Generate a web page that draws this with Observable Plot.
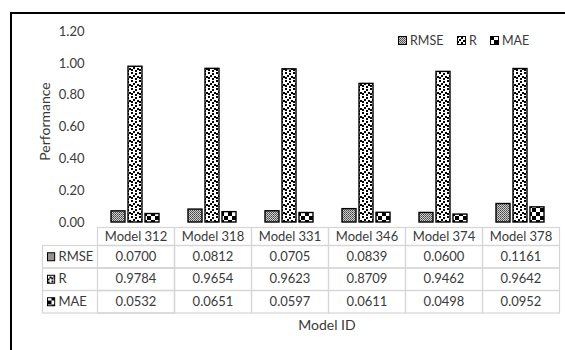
<!DOCTYPE html>
<html><head><meta charset="utf-8">
<script src="https://cdn.jsdelivr.net/npm/d3@7"></script>
<script src="https://cdn.jsdelivr.net/npm/@observablehq/plot@0.6"></script>
<style>
html,body{margin:0;padding:0;background:#fff;overflow:hidden;width:565px;height:350px;}
#wrap{position:relative;width:565px;height:350px;font-family:Lato,sans-serif;color:#3a3a3a;}
#border{position:absolute;left:10px;top:12px;width:700px;height:500px;border-left:2.5px solid #000;border-top:2.5px solid #000;box-sizing:border-box;}
#chart{position:absolute;left:0;top:0;}
#legend{position:absolute;top:33px;left:0;width:565px;height:14px;font-size:12.5px;white-space:nowrap;}
#legend .item{position:absolute;top:0;display:flex;align-items:center;height:14px;}
#legend svg{margin-right:3px;}
#xlabel{position:absolute;left:227px;width:200px;top:316px;text-align:center;font-size:14px;}
#defs{position:absolute;width:0;height:0;}
</style></head><body>
<svg id="defs" width="0" height="0">
 <defs>
  <pattern id="pat-rmse" patternUnits="userSpaceOnUse" width="2" height="2">
   <rect width="2" height="2" fill="#d0d0d0"/>
   <rect x="0" y="0" width="1" height="1" fill="#444"/>
   <rect x="1" y="1" width="1" height="1" fill="#666"/>
  </pattern>
  <pattern id="pat-r" patternUnits="userSpaceOnUse" width="8" height="8">
   <rect width="8" height="8" fill="#fff"/>
   <rect x="0" y="0" width="2" height="2" fill="#000"/>
   <rect x="4" y="1" width="2" height="2" fill="#000"/>
   <rect x="2" y="3" width="2" height="2" fill="#000"/>
   <rect x="6" y="4" width="2" height="2" fill="#000"/>
   <rect x="0" y="5" width="2" height="2" fill="#000"/>
   <rect x="4" y="6" width="2" height="2" fill="#000"/>
  </pattern>
  <pattern id="pat-mae" patternUnits="userSpaceOnUse" width="8" height="8">
   <rect width="8" height="8" fill="#fff"/>
   <rect x="0" y="0" width="4" height="4" fill="#000"/>
   <rect x="4" y="4" width="4" height="4" fill="#000"/>
  </pattern>
 </defs>
</svg>
<div id="wrap">
 <div id="border"></div>
 <div id="chart"></div>
 <div id="legend"></div>
 <div id="xlabel"></div>
</div>
<script>
// ---- data ----
const models = ["Model 312", "Model 318", "Model 331", "Model 346", "Model 374", "Model 378"];
const series = ["RMSE", "R", "MAE"];
const rmse = [0.0700, 0.0812, 0.0705, 0.0839, 0.0600, 0.1161];
const rValues = [0.9784, 0.9654, 0.9623, 0.8709, 0.9462, 0.9642];
const mae = [0.0532, 0.0651, 0.0597, 0.0611, 0.0498, 0.0952];
const yTicks = [0, 0.2, 0.4, 0.6, 0.8, 1.0, 1.2];
const yLabel = "Performance";
const xLabel = "Model ID";

const valuesBySeries = {RMSE: rmse, R: rValues, MAE: mae};
const patternIds = {RMSE: "pat-rmse", R: "pat-r", MAE: "pat-mae"};
const rows = series.flatMap(s => models.map((m, i) => ({model: m, series: s, value: valuesBySeries[s][i]})));

// ---- layout ----
const W = 565, H = 350, mTop = 31, mBottom = 128, mLeft = 94, mRight = 4;
const FB = H - mBottom;                         // frame bottom (y = 0)
const facetW = (W - mLeft - mRight) / models.length;
const lines = [227, 245, 267.5, 290, 312.5];    // table row boundaries
const centers = lines.slice(0, 4).map((v, k) => (v + lines[k + 1]) / 2);
const gridColor = "#d6d6d6";
const legendX = [398, 457, 490];

const marks = [];
for (const s of series) {
  marks.push(Plot.barY(rows.filter(d => d.series === s), {
    fx: "model", x: "series", y: "value",
    fill: `url(#${patternIds[s]})`, stroke: "#000", strokeWidth: 1.4
  }));
}
// table grid (model columns)
for (let k = 0; k < 4; k++) {
  marks.push(Plot.frame({stroke: gridColor, strokeWidth: 1.2,
    insetTop: lines[k] - mTop, insetBottom: FB - lines[k + 1]}));
}
// header row
marks.push(Plot.text(models, {fx: d => d, text: d => d, frameAnchor: "bottom", lineAnchor: "middle",
  dy: centers[0] - FB, fontSize: 13}));
// value rows + left label column
series.forEach((s, k) => {
  const cy = centers[k + 1];
  marks.push(Plot.text(models, {fx: d => d, text: (d, i) => valuesBySeries[s][i].toFixed(4),
    frameAnchor: "bottom", lineAnchor: "middle", dy: cy - FB, fontSize: 13}));
  marks.push(Plot.frame({fx: models[0], stroke: gridColor, strokeWidth: 1.2, insetLeft: 39 - mLeft,
    insetTop: lines[k + 1] - mTop, insetBottom: FB - lines[k + 2]}));
  // swatch
  marks.push(Plot.frame({fx: models[0], fill: `url(#${patternIds[s]})`, stroke: "#000", strokeWidth: 1,
    insetLeft: 44 - mLeft, insetRight: facetW - (52 - mLeft),
    insetTop: cy - 4 - mTop, insetBottom: FB - (cy + 4)}));
  marks.push(Plot.text([s], {fx: () => models[0], text: d => d, frameAnchor: "bottom-left",
    textAnchor: "start", lineAnchor: "middle", dx: 55 - mLeft, dy: cy - FB, fontSize: 13}));
});
// y label
marks.push(Plot.text([yLabel], {fx: () => models[0], text: d => d, frameAnchor: "left", rotate: -90,
  textAnchor: "middle", lineAnchor: "middle", dx: 42 - mLeft, dy: 121 - (mTop + FB) / 2, fontSize: 14}));

const chart = Plot.plot({
  width: W, height: H,
  marginTop: mTop, marginBottom: mBottom, marginLeft: mLeft, marginRight: mRight,
  style: {fontFamily: "Lato, sans-serif", fontSize: "13px", color: "#3a3a3a", background: "transparent", overflow: "visible"},
  fx: {domain: models, padding: 0, axis: null},
  x: {domain: series, paddingInner: 0.17, paddingOuter: 0.75, axis: null},
  y: {domain: [0, 1.2], ticks: yTicks, tickFormat: d3.format(".2f"), tickSize: 0, tickPadding: 13,
      label: null, fontSize: 14},
  marks
});
document.getElementById("chart").appendChild(chart);

// legend
const legend = d3.select("#legend");
series.forEach((s, k) => {
  const it = legend.append("div").attr("class", "item").style("left", legendX[k] + "px");
  const sv = it.append("svg").attr("width", 9).attr("height", 9);
  sv.append("rect").attr("x", 0.5).attr("y", 0.5).attr("width", 8).attr("height", 8)
    .attr("fill", `url(#${patternIds[s]})`).attr("stroke", "#000");
  it.append("span").text(s);
});
document.getElementById("xlabel").textContent = xLabel;
</script>
</body></html>
